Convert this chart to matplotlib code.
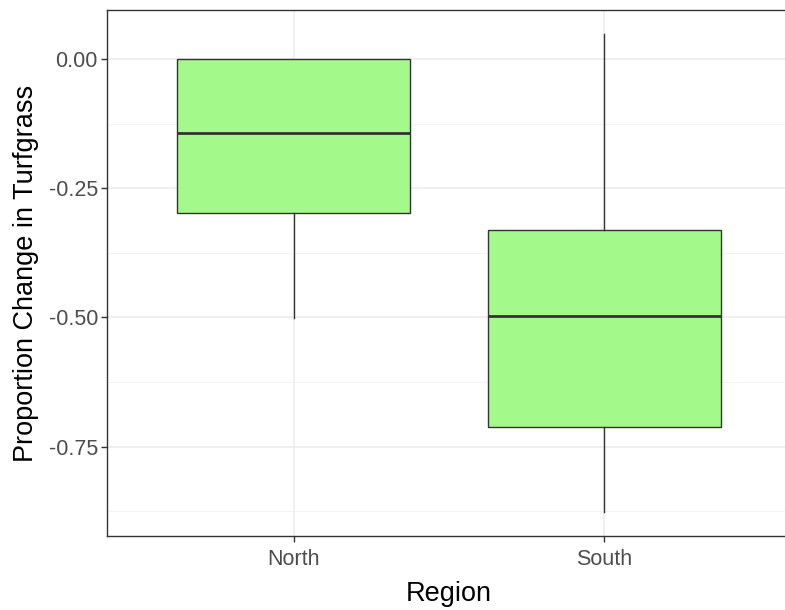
import matplotlib
matplotlib.use("Agg")
import matplotlib.pyplot as plt
import numpy as np

# boxplot summaries per region
regions = ["North", "South"]
whislo = [-0.502, -0.877]
q1 = [-0.298, -0.712]
med = [-0.142, -0.498]
q3 = [0.000, -0.331]
whishi = [0.000, 0.049]

fill = "#A3F98A"
plt.rcParams["font.family"] = ["Liberation Sans", "DejaVu Sans"]

fig = plt.figure(figsize=(7.85, 6.10), dpi=100)
# panel runs slightly past the right edge of the canvas
ax = fig.add_axes([107 / 785, 1 - 536 / 610, 684 / 785, 526 / 610])

stats = []
for i, name in enumerate(regions):
    stats.append(dict(label=name, whislo=whislo[i], q1=q1[i], med=med[i],
                      q3=q3[i], whishi=whishi[i], fliers=[]))

pos = np.arange(1, len(regions) + 1)
ax.bxp(stats, positions=pos, widths=0.75, patch_artist=True, showcaps=False,
       boxprops=dict(facecolor=fill, edgecolor="#333333", linewidth=1.0),
       whiskerprops=dict(color="#333333", linewidth=1.0),
       medianprops=dict(color="#333333", linewidth=2.0),
       zorder=3)

ax.set_yticks([0.0, -0.25, -0.5, -0.75])
ax.set_yticklabels(["0.00", "-0.25", "-0.50", "-0.75"])
ax.set_yticks([-0.125, -0.375, -0.625, -0.875], minor=True)
ax.set_xticks(pos)
ax.set_xticklabels(regions)

# ggplot-style 5% expansion around the data range
lo = min(whislo)
hi = max(whishi)
pad = (hi - lo) * 0.05
ax.set_ylim(lo - pad, hi + pad)
ax.set_xlim(0.4, 2.6)

ax.grid(True, which="major", color="#EBEBEB", linewidth=1.1, zorder=0)
ax.grid(True, which="minor", axis="y", color="#F2F2F2", linewidth=0.7, zorder=0)
ax.set_axisbelow(True)

ax.tick_params(which="major", length=4.5, width=1, color="#333333",
               labelcolor="#4D4D4D", labelsize=15.5, pad=2)
ax.tick_params(axis="x", pad=5)
ax.tick_params(which="minor", length=0)
for s in ax.spines.values():
    s.set_color("#333333")
    s.set_linewidth(1.0)

ax.set_xlabel("Region", fontsize=19.5, color="black", labelpad=8)
ax.set_ylabel("Proportion Change in Turfgrass", fontsize=19.5, color="black", labelpad=7)

fig.savefig("out.png", dpi=100)
